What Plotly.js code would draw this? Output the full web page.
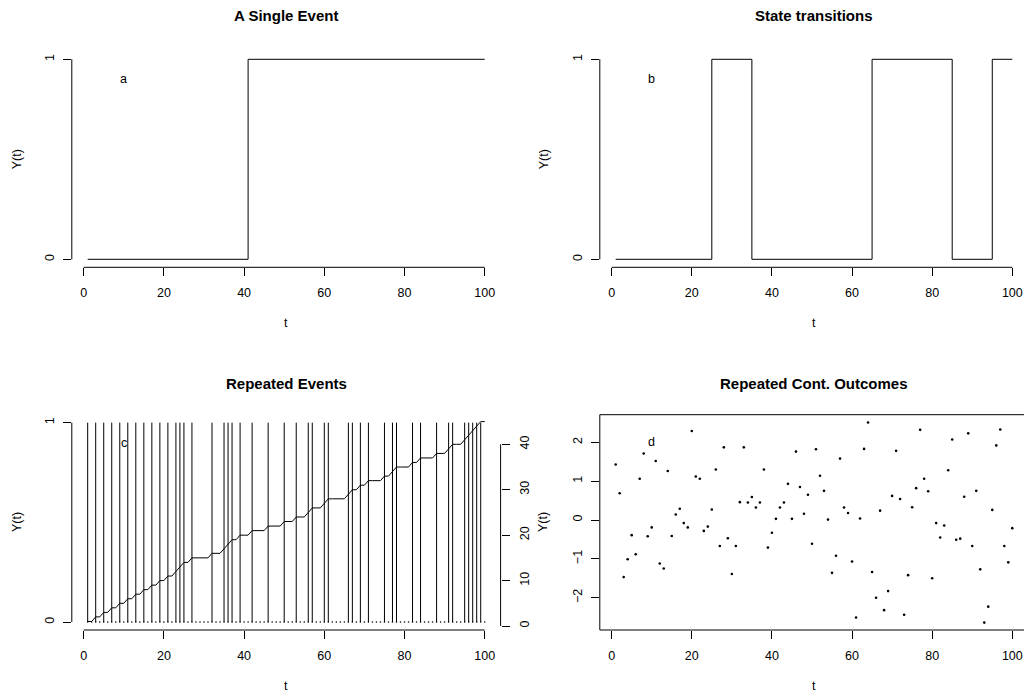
<!DOCTYPE html>
<html>
<head>
<meta charset="utf-8">
<script src="https://cdn.plot.ly/plotly-3.0.1.min.js"></script>
<style>html,body{margin:0;padding:0;background:#fff;}#chart{width:1024px;height:693px;}</style>
</head>
<body>
<div id="chart"></div>
<script>
// ---- data ----
var tMin = 1, tMax = 100;
// Panel a: single event (step function change points)
var singleTimes = [1, 41, 100];
var singleValues = [0, 1, 1];
// Panel b: state transitions (step function change points)
var stateTimes = [1, 25, 35, 65, 85, 95, 100];
var stateValues = [0, 1, 0, 1, 0, 1, 1];
// Panel c: repeated events (times at which Y(t)=1)
var eventTimes = [1,3,5,7,9,11,13,15,17,19,21,23,24,25,27,32,35,36,37,39,42,46,50,
                  53,56,57,60,61,66,67,69,71,75,77,78,82,84,88,91,92,95,96,97,98,99];
// Panel d: repeated continuous outcomes, t = 1..100
var contValues = [1.43,0.69,-1.47,-1.01,-0.39,-0.88,1.06,1.71,-0.42,-0.19,
                  1.52,-1.12,-1.25,1.26,-0.41,0.14,0.29,-0.08,-0.19,2.29,
                  1.12,1.06,-0.28,-0.17,0.27,1.30,-0.67,1.87,-0.47,-1.39,
                  -0.67,0.46,1.87,0.45,0.59,0.32,0.45,1.30,-0.71,-0.33,
                  0.03,0.32,0.45,0.93,0.03,1.76,0.85,0.16,0.65,-0.61,
                  1.82,1.14,0.75,0.01,-1.36,-0.92,1.58,0.32,0.18,-1.07,
                  -2.51,0.04,1.83,2.51,-1.34,-2.00,0.24,-2.32,-1.83,0.62,
                  1.78,0.54,-2.44,-1.42,0.33,0.82,2.32,1.06,0.74,-1.50,
                  -0.08,-0.45,-0.14,1.28,2.07,-0.51,-0.48,0.60,2.23,-0.67,
                  0.75,-1.27,-2.64,-2.23,0.26,1.92,2.33,-0.67,-1.09,-0.21];
var panelTitles = ["A Single Event", "State transitions", "Repeated Events", "Repeated Cont. Outcomes"];
var panelLetters = ["a", "b", "c", "d"];
var xTicks = [0, 20, 40, 60, 80, 100];
var binTicks = [0, 1];
var countTicks = [0, 10, 20, 30, 40];
var contTicks = [-2, -1, 0, 1, 2];

// ---- derived series ----
var tAll = [];
for (var i = tMin; i <= tMax; i++) tAll.push(i);
var zeros = tAll.map(function(){ return 0; });
var evX = [], evY = [];
eventTimes.forEach(function(t){ evX.push(t, t, null); evY.push(0, 1, null); });
var cum = [], c = 0;
tAll.forEach(function(t){ if (eventTimes.indexOf(t) >= 0) c++; cum.push(c); });

// ---- geometry ----
var W = 1024, H = 693;
function px(x){ return x / W; }
function py(y){ return (H - y) / H; }
var LX = [px(71.8), px(500.6)], RX = [px(599.8), 1];
var R1 = [py(267.3), py(51.3)], R2 = [py(630), py(414.7)];
var xLeftRange = [-2.96, 103.96], xRightRange = [-2.96, 102.92];
var font = {family: "Liberation Sans, Arial, Helvetica, sans-serif", size: 12.5, color: "#000"};

function xax(domain, range, anchor){
  return {domain: domain, range: range, anchor: anchor, tickvals: xTicks, ticks: "outside", ticklen: 8,
    tickwidth: 1, tickcolor: "#000", showgrid: false, zeroline: false, showline: false,
    ticklabelstandoff: 6, tickfont: font, fixedrange: true};
}
function yax(domain, range, anchor, vals){
  return {domain: domain, range: range, anchor: anchor, tickvals: vals, ticks: "outside", ticklen: 8,
    tickwidth: 1, tickcolor: "#000", showgrid: false, zeroline: false, showline: false,
    tickangle: -90, ticklabelstandoff: 4, tickfont: font, fixedrange: true};
}

var lineStyle = {color: "#000", width: 1};
var traces = [
  {x: singleTimes, y: singleValues, xaxis: "x", yaxis: "y", mode: "lines", line: {color: "#000", width: 1, shape: "hv"}, hoverinfo: "skip"},
  {x: stateTimes, y: stateValues, xaxis: "x2", yaxis: "y2", mode: "lines", line: {color: "#000", width: 1, shape: "hv"}, hoverinfo: "skip"},
  {x: tAll, y: zeros, xaxis: "x3", yaxis: "y3", mode: "markers", marker: {color: "#000", size: 1.6}, hoverinfo: "skip"},
  {x: evX, y: evY, xaxis: "x3", yaxis: "y3", mode: "lines", line: lineStyle, connectgaps: false, hoverinfo: "skip"},
  {x: tAll, y: cum, xaxis: "x3", yaxis: "y5", mode: "lines", line: lineStyle, hoverinfo: "skip"},
  {x: tAll, y: contValues, xaxis: "x4", yaxis: "y4", mode: "markers", marker: {color: "#000", size: 2.6}, hoverinfo: "skip"}
];

var shapes = [
  // panel a axes
  {type: "line", xref: "x", yref: "paper", x0: 0, x1: 100, y0: R1[0], y1: R1[0], line: lineStyle},
  {type: "line", xref: "paper", yref: "y", x0: LX[0], x1: LX[0], y0: 0, y1: 1, line: lineStyle},
  // panel b axes
  {type: "line", xref: "x2", yref: "paper", x0: 0, x1: 100, y0: R1[0], y1: R1[0], line: lineStyle},
  {type: "line", xref: "paper", yref: "y2", x0: RX[0], x1: RX[0], y0: 0, y1: 1, line: lineStyle},
  // panel c axes
  {type: "line", xref: "x3", yref: "paper", x0: 0, x1: 100, y0: R2[0], y1: R2[0], line: lineStyle},
  {type: "line", xref: "paper", yref: "y3", x0: LX[0], x1: LX[0], y0: 0, y1: 1, line: lineStyle},
  {type: "line", xref: "paper", yref: "y5", x0: LX[1], x1: LX[1], y0: 0, y1: 40, line: lineStyle},
  // panel d box
  {type: "rect", xref: "paper", yref: "paper", x0: RX[0], x1: 1.05, y0: R2[0], y1: R2[1], line: lineStyle, fillcolor: "rgba(0,0,0,0)"}
];

function ann(text, x, y, extra){
  var a = {text: text, x: x, y: y, xref: "paper", yref: "paper", showarrow: false, xanchor: "center", yanchor: "middle", font: font};
  for (var k in extra) a[k] = extra[k];
  return a;
}
var titleFont = {family: font.family, size: 15, color: "#000"};
var midL = (71.8 + 500.6) / 2, midR = (599.8 + 1028.2) / 2;
var annotations = [
  ann("<b>" + panelTitles[0] + "</b>", px(midL), py(16), {font: titleFont}),
  ann("<b>" + panelTitles[1] + "</b>", px(midR), py(16), {font: titleFont}),
  ann("<b>" + panelTitles[2] + "</b>", px(midL), py(383), {font: titleFont}),
  ann("<b>" + panelTitles[3] + "</b>", px(midR), py(383), {font: titleFont}),
  ann("t", px(midL), py(323)), ann("t", px(midR), py(323)),
  ann("t", px(midL), py(686)), ann("t", px(midR), py(686)),
  ann("Y(t)", px(17), py(159.3), {textangle: -90}),
  ann("Y(t)", px(544), py(159.3), {textangle: -90}),
  ann("Y(t)", px(17), py(522), {textangle: -90}),
  ann("Y(t)", px(543), py(522), {textangle: -90}),
  {text: panelLetters[0], x: 10, y: 0.9, xref: "x", yref: "y", showarrow: false, font: font},
  {text: panelLetters[1], x: 10, y: 0.9, xref: "x2", yref: "y2", showarrow: false, font: font},
  {text: panelLetters[2], x: 10, y: 0.9, xref: "x3", yref: "y3", showarrow: false, font: font},
  {text: panelLetters[3], x: 10, y: 2, xref: "x4", yref: "y4", showarrow: false, font: font}
];

var layout = {
  width: W, height: H, margin: {l: 0, r: 0, t: 0, b: 0}, showlegend: false,
  paper_bgcolor: "#fff", plot_bgcolor: "#fff", font: font,
  xaxis: xax(LX, xLeftRange, "y"), yaxis: yax(R1, [-0.04, 1.04], "x", binTicks),
  xaxis2: xax(RX, xRightRange, "y2"), yaxis2: yax(R1, [-0.04, 1.04], "x2", binTicks),
  xaxis3: xax(LX, xLeftRange, "y3"), yaxis3: yax(R2, [-0.04, 1.04], "x3", binTicks),
  xaxis4: xax(RX, xRightRange, "y4"), yaxis4: yax(R2, [-2.831, 2.710], "x4", contTicks),
  yaxis5: (function(){ var a = yax(R2, [-0.88, 46.52], "x3", countTicks); a.overlaying = "y3"; a.side = "right"; return a; })(),
  shapes: shapes, annotations: annotations
};
Plotly.newPlot("chart", traces, layout, {staticPlot: true, displayModeBar: false});
</script>
</body>
</html>
